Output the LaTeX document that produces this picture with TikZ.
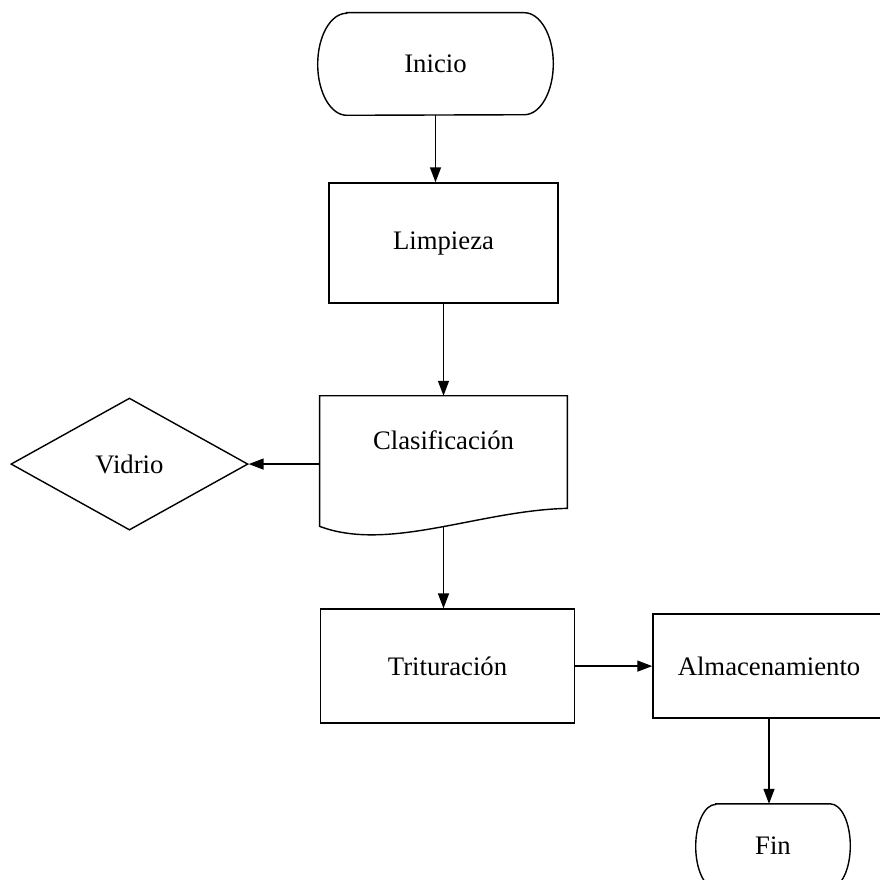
\documentclass[tikz,border=0pt]{standalone}
\usepackage{fontspec}
\setmainfont{Liberation Serif}
\usepackage{tikz}
\usetikzlibrary{positioning,shapes.geometric,arrows.meta}
\tikzstyle{startstop} = [rectangle, text centered, font=\fontsize{19}{22}\selectfont]
\tikzstyle{process} = [rectangle, text centered, draw=black, line width=1pt, font=\fontsize{19}{22}\selectfont]
\tikzstyle{docbox} = [rectangle, minimum width=6.175cm, minimum height=2.2cm, text centered, font=\fontsize{19}{22}\selectfont]
\tikzstyle{decision} = [diamond, inner sep=0pt, text centered, draw=black, line width=1pt, font=\fontsize{19}{22}\selectfont]
\tikzstyle{outline} = [line width=1pt]
\tikzstyle{arrow} = [line width=1pt, -{Triangle[length=0.375cm,width=0.275cm]}]

\begin{document}
\begin{tikzpicture}[x=0.025cm, y=-0.025cm]
		\useasboundingbox (0,0) rectangle (880,880);

		% Nodes
		\node (inicio) [startstop, minimum width=5.875cm, minimum height=2.55cm] at (435.5,64) {Inicio};

		\node (limpieza) [process, minimum width=5.725cm, minimum height=3cm, below=1.675cm of inicio, xshift=0.2cm] {Limpieza};

		\node (clasif) [docbox, below=2.3cm of limpieza] {Clasificación};
		\node (vidrio) [decision, minimum width=5.925cm, minimum height=3.3cm, left=1.775cm of clasif, yshift=-0.6cm] {Vidrio};

		\node (tritur) [process, minimum width=6.35cm, minimum height=2.85cm, below=3.1cm of clasif, xshift=0.1cm] {Trituración};
		\node (almac) [process, minimum width=5.8cm, minimum height=2.6cm, right=1.925cm of tritur] {Almacenamiento};

		\node (fin) [startstop, minimum width=3.85cm, minimum height=2.1cm, below=2.125cm of almac, xshift=0.1cm] {Fin};

		% Outlines
		\draw [outline] ([xshift=0.725cm]inicio.north west) -- ([xshift=-0.725cm]inicio.north east)
			arc[start angle=90, end angle=-90, x radius=0.725cm, y radius=1.275cm]
			-- ([xshift=0.725cm]inicio.south west)
			arc[start angle=270, end angle=90, x radius=0.725cm, y radius=1.275cm] -- cycle;
		\draw [outline] ([xshift=0.5cm]fin.north west) -- ([xshift=-0.5cm]fin.north east)
			arc[start angle=90, end angle=-90, x radius=0.5cm, y radius=1.05cm]
			-- ([xshift=0.5cm]fin.south west)
			arc[start angle=270, end angle=90, x radius=0.5cm, y radius=1.05cm] -- cycle;
		\draw [outline] (clasif.north west) -- (clasif.north east) -- ([yshift=-0.6cm]clasif.south east)
			.. controls +(-88,2) and +(69,26) .. ([yshift=-1.05cm]clasif.south west) -- cycle;
		\coordinate (clasif-out) at ([yshift=-1.05cm]clasif.south);

		% Arrows
		\draw [arrow] (inicio.south) -- (inicio.south |- limpieza.north);
		\draw [arrow] (limpieza.south) -- (clasif.north);
		\draw [arrow] (vidrio.east -| clasif.west) -- (vidrio.east);
		\draw [arrow] (clasif-out) -- (clasif-out |- tritur.north);
		\draw [arrow] (tritur.east) -- (tritur.east -| almac.west);
		\draw [arrow] (almac.south) -- (almac.south |- fin.north);
\end{tikzpicture}
\end{document}
